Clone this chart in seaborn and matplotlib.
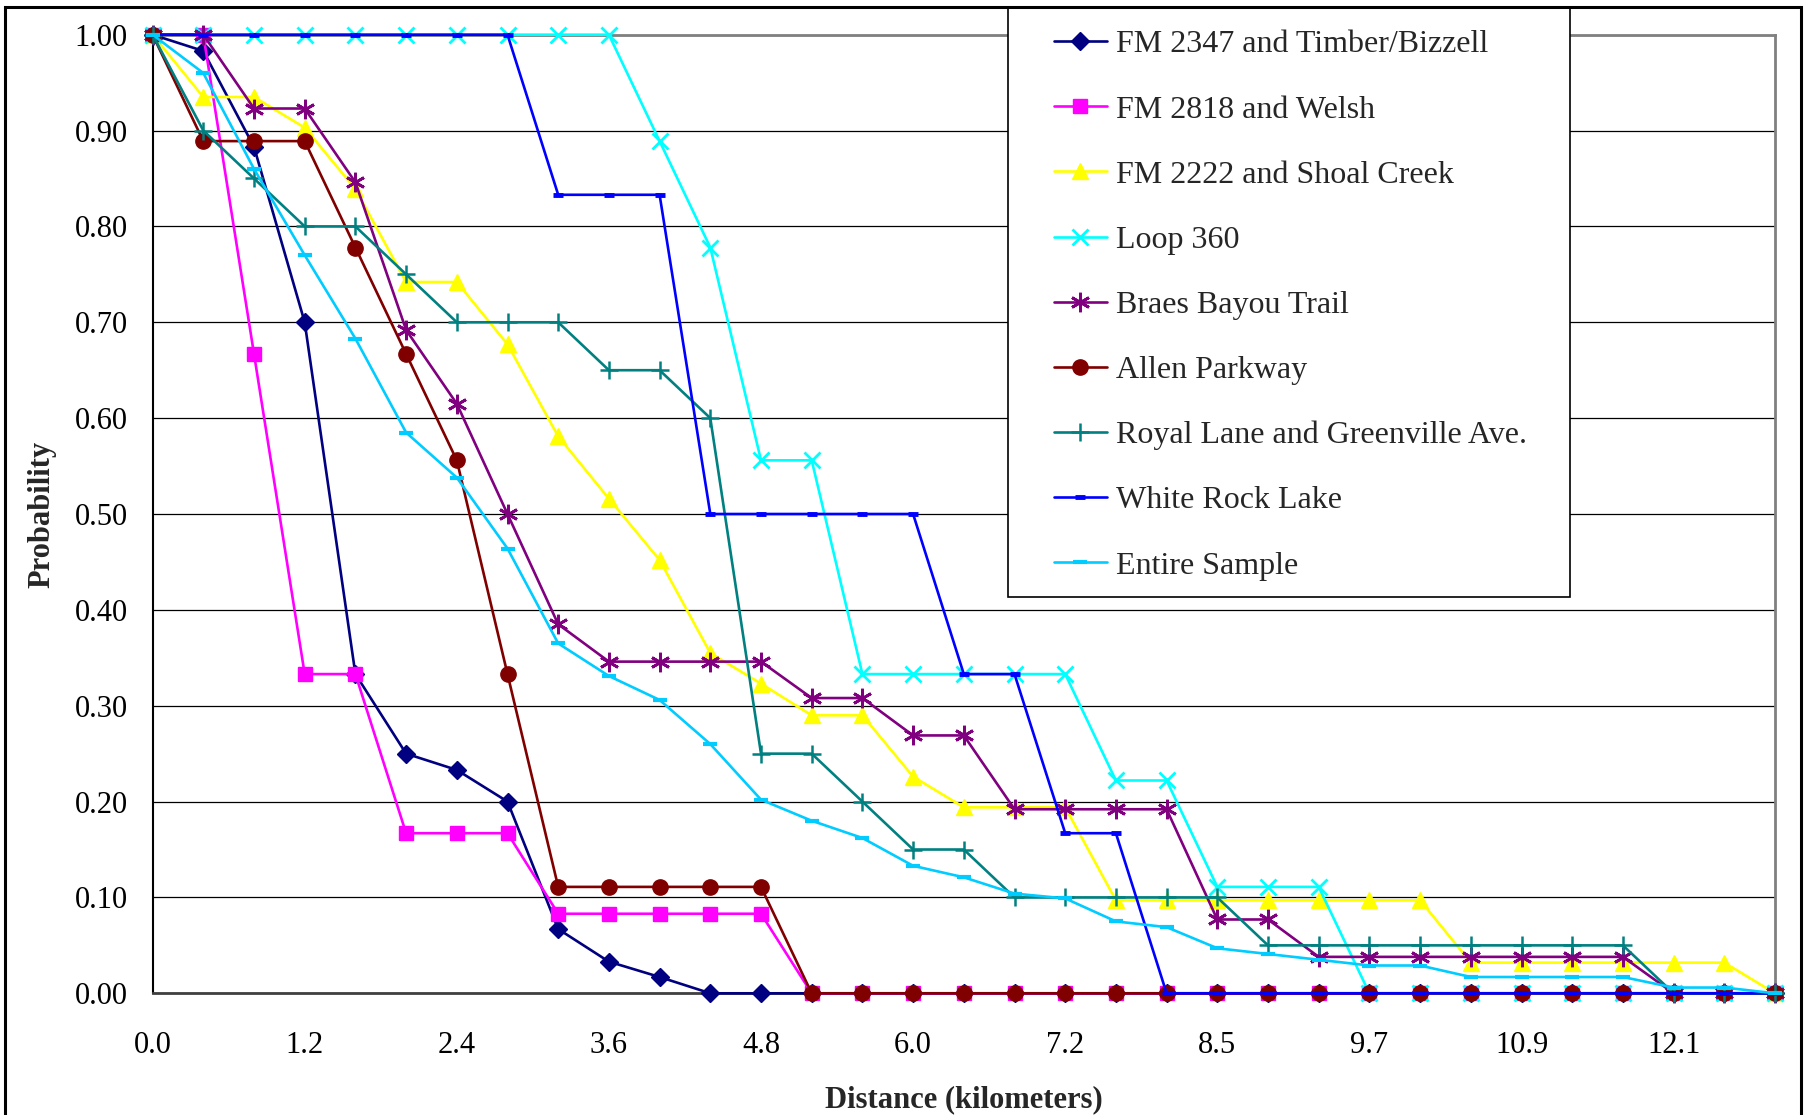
import numpy as np
import pandas as pd
import matplotlib
matplotlib.use('Agg')
import matplotlib.pyplot as plt
import seaborn as sns
from matplotlib.patches import Rectangle

# distance categories (km), one per quarter mile
dist_km = [0.0, 0.4, 0.8, 1.2, 1.6, 2.0, 2.4, 2.8, 3.2, 3.6, 4.0, 4.4, 4.8, 5.2, 5.6, 6.0,
           6.4, 6.8, 7.2, 7.6, 8.1, 8.5, 8.9, 9.3, 9.7, 10.1, 10.5, 10.9, 11.3, 11.7, 12.1,
           12.5, 12.9]

fm2347 = [1.0, 0.983, 0.883, 0.700, 0.333, 0.250, 0.233, 0.200, 0.067, 0.033, 0.017,
          0.0, 0.0, 0.0, 0.0, 0.0, 0.0, 0.0, 0.0, 0.0, 0.0, 0.0, 0.0, 0.0, 0.0, 0.0,
          0.0, 0.0, 0.0, 0.0, 0.0, 0.0, 0.0]
fm2818 = [1.0, 1.0, 0.667, 0.333, 0.333, 0.167, 0.167, 0.167, 0.083, 0.083, 0.083,
          0.083, 0.083, 0.0, 0.0, 0.0, 0.0, 0.0, 0.0, 0.0, 0.0, 0.0, 0.0, 0.0, 0.0,
          0.0, 0.0, 0.0, 0.0, 0.0, 0.0, 0.0, 0.0]
fm2222 = [1.0, 0.935, 0.935, 0.903, 0.839, 0.742, 0.742, 0.677, 0.581, 0.516, 0.452,
          0.355, 0.323, 0.290, 0.290, 0.226, 0.194, 0.194, 0.194, 0.097, 0.097, 0.097,
          0.097, 0.097, 0.097, 0.097, 0.032, 0.032, 0.032, 0.032, 0.032, 0.032, 0.0]
loop360 = [1.0, 1.0, 1.0, 1.0, 1.0, 1.0, 1.0, 1.0, 1.0, 1.0, 0.889, 0.778, 0.556,
           0.556, 0.333, 0.333, 0.333, 0.333, 0.333, 0.222, 0.222, 0.111, 0.111, 0.111,
           0.0, 0.0, 0.0, 0.0, 0.0, 0.0, 0.0, 0.0, 0.0]
braes = [1.0, 1.0, 0.923, 0.923, 0.846, 0.692, 0.615, 0.500, 0.385, 0.346, 0.346,
         0.346, 0.346, 0.308, 0.308, 0.269, 0.269, 0.192, 0.192, 0.192, 0.192, 0.077,
         0.077, 0.038, 0.038, 0.038, 0.038, 0.038, 0.038, 0.038, 0.0, 0.0, 0.0]
allen = [1.0, 0.889, 0.889, 0.889, 0.778, 0.667, 0.556, 0.333, 0.111, 0.111, 0.111,
         0.111, 0.111, 0.0, 0.0, 0.0, 0.0, 0.0, 0.0, 0.0, 0.0, 0.0, 0.0, 0.0, 0.0,
         0.0, 0.0, 0.0, 0.0, 0.0, 0.0, 0.0, 0.0]
royal = [1.0, 0.90, 0.85, 0.80, 0.80, 0.75, 0.70, 0.70, 0.70, 0.65, 0.65, 0.60, 0.25,
         0.25, 0.20, 0.15, 0.15, 0.10, 0.10, 0.10, 0.10, 0.10, 0.05, 0.05, 0.05, 0.05,
         0.05, 0.05, 0.05, 0.05, 0.0, 0.0, 0.0]
white_rock = [1.0, 1.0, 1.0, 1.0, 1.0, 1.0, 1.0, 1.0, 0.833, 0.833, 0.833, 0.5, 0.5,
              0.5, 0.5, 0.5, 0.333, 0.333, 0.167, 0.167, 0.0, 0.0, 0.0, 0.0, 0.0, 0.0,
              0.0, 0.0, 0.0, 0.0, 0.0, 0.0, 0.0]
entire = [1.0, 0.960, 0.860, 0.770, 0.683, 0.585, 0.538, 0.464, 0.365, 0.331, 0.306,
          0.260, 0.202, 0.180, 0.162, 0.133, 0.121, 0.104, 0.099, 0.075, 0.069, 0.047,
          0.041, 0.035, 0.029, 0.029, 0.017, 0.017, 0.017, 0.017, 0.006, 0.006, 0.0]

sites = ['FM 2347 and Timber/Bizzell', 'FM 2818 and Welsh', 'FM 2222 and Shoal Creek',
         'Loop 360', 'Braes Bayou Trail', 'Allen Parkway',
         'Royal Lane and Greenville Ave.', 'White Rock Lake', 'Entire Sample']
series = [fm2347, fm2818, fm2222, loop360, braes, allen, royal, white_rock, entire]
colors = ['#000080', '#FF00FF', '#FFFF00', '#00FFFF', '#800080', '#800000',
          '#008080', '#0000FF', '#00CCFF']
markers = ['D', 's', '^', 'x', (6, 2, 0), 'o', '+', '_', '_']
msizes = [9, 10, 11, 11, 14, 11, 13, 7, 10]
mews = [1, 1, 1, 2, 2, 1, 1.8, 3.5, 3]

rows = []
for name, vals in zip(sites, series):
    for i, v in enumerate(vals):
        rows.append({'pos': i, 'prob': v, 'site': name})
df = pd.DataFrame(rows)

sns.set_style('white')
plt.rcParams['font.family'] = ['Liberation Serif', 'DejaVu Serif']

W, H = 1813, 1115
fig = plt.figure(figsize=(W / 100, H / 100), dpi=100)
ax = fig.add_axes([152.6 / W, 1 - 993.3 / H, (1775 - 152.6) / W, (993.3 - 34.7) / H])

for name, c, m, ms, mew in zip(sites, colors, markers, msizes, mews):
    sns.lineplot(data=df[df['site'] == name], x='pos', y='prob', ax=ax, color=c,
                 marker=m, markersize=ms, markeredgewidth=mew, markeredgecolor=c,
                 linewidth=1.9, errorbar=None, label=name, clip_on=False, zorder=3)

if ax.get_legend() is not None:
    ax.get_legend().remove()

ax.set_xlim(0, len(dist_km) - 1)
ax.set_ylim(0, 1.0)
ax.set_xticks(range(len(dist_km)))
ax.set_xticklabels([f'{d:.1f}' if i % 3 == 0 else '' for i, d in enumerate(dist_km)])
ax.set_yticks(np.arange(0, 1.01, 0.1))
ax.set_yticklabels([f'{t:.2f}' for t in np.arange(0, 1.01, 0.1)])
ax.tick_params(axis='x', direction='inout', length=14, width=1, pad=20, labelsize=22, colors='black')
ax.tick_params(axis='y', direction='out', length=8, width=1, pad=10, labelsize=22, colors='black')
ax.yaxis.grid(True, color='black', linewidth=0.9, zorder=1)
ax.set_axisbelow(True)

for s in ['top', 'right']:
    ax.spines[s].set_color('#808080')
    ax.spines[s].set_linewidth(2)
ax.spines['left'].set_color('black')
ax.spines['left'].set_linewidth(1.5)
ax.spines['bottom'].set_color('#404040')
ax.spines['bottom'].set_linewidth(2)

ax.set_xlabel('Distance (kilometers)', fontsize=22, fontweight='bold', labelpad=18)
ax.set_ylabel('Probability', fontsize=22, fontweight='bold', labelpad=13)

# legend frame and entries
fig.patches.append(Rectangle((1008 / W, 1 - 597 / H), (1570 - 1008) / W, (597 - 7) / H,
                             transform=fig.transFigure, facecolor='white',
                             edgecolor='black', linewidth=1.2, zorder=4))
handles, labels = ax.get_legend_handles_labels()
fig.legend(handles, labels, loc='upper left', bbox_to_anchor=(1054 / W, 1 - 30 / H),
           frameon=False, fontsize=23, borderpad=0, borderaxespad=0,
           handlelength=1.65, handletextpad=0.3, labelspacing=1.12).set_zorder(5)

# outer chart border
fig.patches.append(Rectangle((5 / W, -0.05), (1801 - 5) / W, 1.05 - 7 / H,
                             transform=fig.transFigure, facecolor='none',
                             edgecolor='black', linewidth=2.2, zorder=6))

fig.savefig('out.png', dpi=100)
